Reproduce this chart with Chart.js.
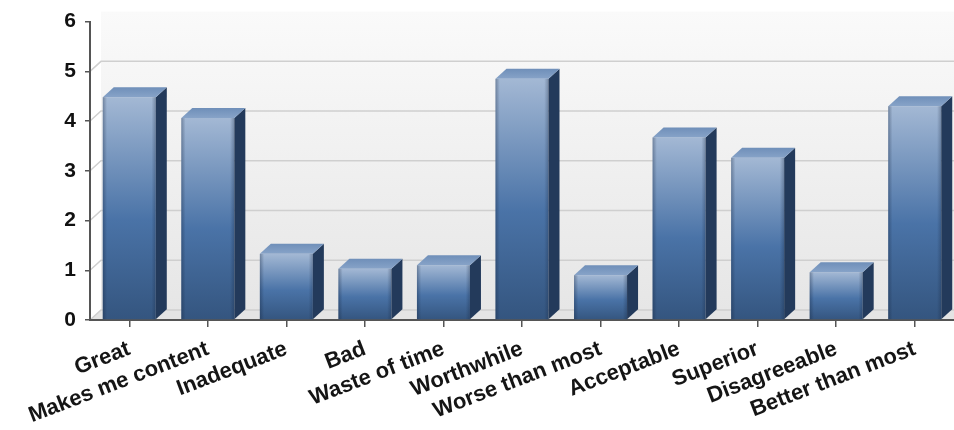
<!DOCTYPE html>
<html>
<head>
<meta charset="utf-8">
<style>
  html, body { margin: 0; padding: 0; background: #fff; }
  #wrap { width: 954px; height: 430px; position: relative; }
</style>
</head>
<body>
<div id="wrap"><canvas id="ratingChart"></canvas></div>
<script src="https://cdn.jsdelivr.net/npm/chart.js@4.4.1/dist/chart.umd.min.js"></script>
<script>
const categories = ["Great", "Makes me content", "Inadequate", "Bad", "Waste of time",
    "Worthwhile", "Worse than most", "Acceptable", "Superior", "Disagreeable", "Better than most"];
const ratings = [4.48, 4.06, 1.33, 1.03, 1.1, 4.85, 0.9, 3.67, 3.26, 0.96, 4.3];
const yMin = 0;
const yMax = 6;
const yStep = 1;

// depth of the fake 3d box
const DX = 11;
const DY = 10;

function frontGradient(ctx, top, bottom) {
    let g = ctx.createLinearGradient(0, top, 0, bottom);
    g.addColorStop(0, "#a3b8d4");
    g.addColorStop(0.55, "#4a73a7");
    g.addColorStop(1, "#34557f");
    return g;
}

const box3d = {
    id: "box3d",
    beforeDraw(chart) {
        let ctx = chart.ctx;
        let a = chart.chartArea;
        let y = chart.scales.y;
        let top = y.getPixelForValue(yMax);
        let bottom = y.getPixelForValue(yMin);

        ctx.save();
        // back wall
        let wall = ctx.createLinearGradient(0, top - DY, 0, bottom - DY);
        wall.addColorStop(0, "#fafafa");
        wall.addColorStop(1, "#e6e6e6");
        ctx.fillStyle = wall;
        ctx.fillRect(a.left + DX, top - DY, a.right - a.left - DX, bottom - top);

        // floor
        ctx.fillStyle = "#e4e4e4";
        ctx.beginPath();
        ctx.moveTo(a.left, bottom);
        ctx.lineTo(a.left + DX, bottom - DY);
        ctx.lineTo(a.right, bottom - DY);
        ctx.lineTo(a.right, bottom);
        ctx.closePath();
        ctx.fill();

        // grid lines on back wall + left wall
        ctx.strokeStyle = "#cfcfcf";
        ctx.lineWidth = 1.5;
        for (let v = yMin; v < yMax; v += yStep) {
            let py = y.getPixelForValue(v);
            ctx.beginPath();
            ctx.moveTo(a.left, py);
            ctx.lineTo(a.left + DX, py - DY);
            ctx.lineTo(a.right, py - DY);
            ctx.stroke();
        }
        ctx.restore();
    },
    afterDatasetsDraw(chart) {
        let ctx = chart.ctx;
        let meta = chart.getDatasetMeta(0);
        ctx.save();
        meta.data.forEach(bar => {
            let p = bar.getProps(["x", "y", "base", "width"], true);
            let l = p.x - p.width / 2;
            let r = p.x + p.width / 2;

            // side face
            ctx.fillStyle = "#233a5b";
            ctx.beginPath();
            ctx.moveTo(r, p.y);
            ctx.lineTo(r + DX, p.y - DY);
            ctx.lineTo(r + DX, p.base - DY);
            ctx.lineTo(r, p.base);
            ctx.closePath();
            ctx.fill();

            // top face
            let tg = ctx.createLinearGradient(0, p.y - DY, 0, p.y);
            tg.addColorStop(0, "#6f8fb9");
            tg.addColorStop(1, "#87a3c8");
            ctx.fillStyle = tg;
            ctx.beginPath();
            ctx.moveTo(l, p.y);
            ctx.lineTo(l + DX, p.y - DY);
            ctx.lineTo(r + DX, p.y - DY);
            ctx.lineTo(r, p.y);
            ctx.closePath();
            ctx.fill();

            // soft dark edges on the front face
            let eg = ctx.createLinearGradient(l, 0, r, 0);
            eg.addColorStop(0, "rgba(20,35,60,0.35)");
            eg.addColorStop(0.08, "rgba(20,35,60,0)");
            eg.addColorStop(0.92, "rgba(20,35,60,0)");
            eg.addColorStop(1, "rgba(20,35,60,0.3)");
            ctx.fillStyle = eg;
            ctx.fillRect(l, p.y, r - l, p.base - p.y);
        });
        ctx.restore();
    }
};

let myChart = new Chart(document.getElementById("ratingChart"), {
    type: "bar",
    data: {
        labels: categories,
        datasets: [{
            data: ratings,
            categoryPercentage: 1,
            barPercentage: 0.675,
            borderWidth: 0,
            backgroundColor: ctx => {
                let c = ctx.chart;
                if (!c.chartArea) return "#4a73a7";
                let top = c.scales.y.getPixelForValue(ctx.raw);
                let bottom = c.scales.y.getPixelForValue(0);
                return frontGradient(c.ctx, top, bottom);
            }
        }]
    },
    options: {
        responsive: true,
        maintainAspectRatio: false,
        animation: false,
        layout: { padding: { top: 21, right: 0, bottom: 0, left: 0 } },
        plugins: {
            legend: { display: false },
            tooltip: { enabled: false }
        },
        scales: {
            x: {
                offset: true,
                afterFit: s => { s.height = 110; },
                grid: { offset: false, drawOnChartArea: false, drawTicks: true, tickLength: 7, color: "#555", lineWidth: 1.5 },
                border: { display: true, color: "#555", width: 2 },
                ticks: {
                    autoSkip: false,
                    minRotation: 21,
                    maxRotation: 21,
                    padding: 9,
                    color: "#151515",
                    font: { family: "'Liberation Sans', Arial, sans-serif", size: 22, weight: "bold" }
                }
            },
            y: {
                min: yMin,
                max: yMax,
                afterFit: s => { s.width = 90; },
                grid: { drawOnChartArea: false, drawTicks: true, tickLength: 5, color: "#555", lineWidth: 1.5 },
                border: { display: true, color: "#555", width: 2 },
                ticks: {
                    stepSize: yStep,
                    padding: 9,
                    color: "#111",
                    font: { family: "'Liberation Sans', Arial, sans-serif", size: 21, weight: "bold" }
                }
            }
        }
    },
    plugins: [box3d]
});
</script>
</body>
</html>
